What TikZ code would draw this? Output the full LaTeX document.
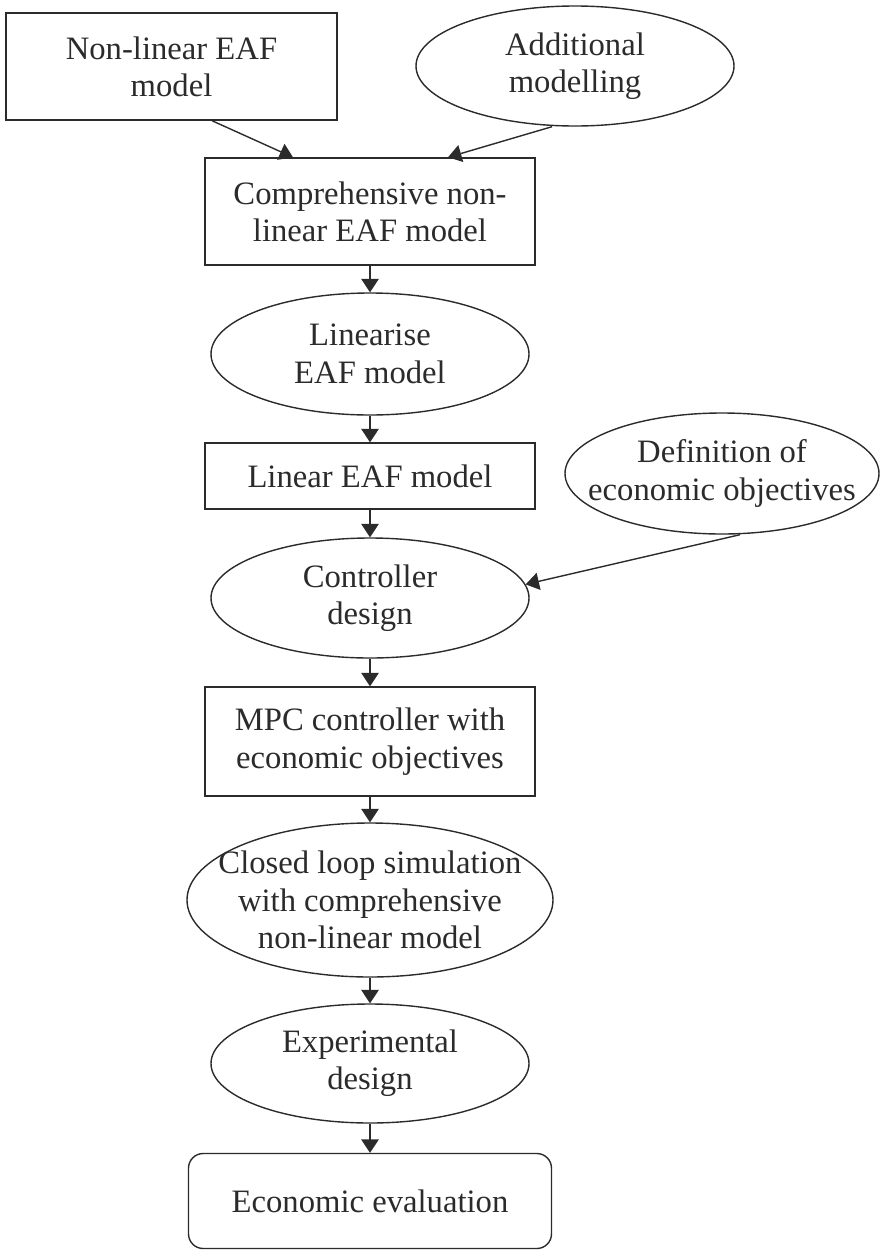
\documentclass[tikz,border=0pt]{standalone}
\usepackage{fontspec}
\setmainfont{Liberation Serif}
\usetikzlibrary{shapes.geometric,arrows.meta,calc}
\definecolor{ink}{HTML}{2B2B2B}
\begin{document}
\begin{tikzpicture}[x=0.75pt,y=-0.75pt,
  every node/.style={font=\fontsize{24.5}{28}\selectfont, text=ink, align=center, inner sep=0pt},
  boxnode/.style={rectangle, draw=ink, line width=1.05pt},
  ellnode/.style={ellipse, draw=ink, line width=1.05pt},
  roundnode/.style={rectangle, rounded corners=11pt, draw=ink, line width=1.05pt},
  arr/.style={draw=ink, line width=1.05pt, -{Triangle[width=13pt,length=10pt]}}
]
\useasboundingbox (0,0) rectangle (879,1250);

\node[boxnode, minimum width=248.25pt, minimum height=80.25pt] (A) at (171.5,66.5) {Non-linear EAF\\model};
\node[ellnode, minimum width=238.5pt, minimum height=90pt, label={[name=Bt]center:Additional\\modelling}] (B) at (575,66) {};
\node[boxnode, minimum width=247.5pt, minimum height=80.25pt] (comp) at (370,211.5) {Comprehensive non-\\linear EAF model};
\node[ellnode, minimum width=238.5pt, minimum height=91.5pt, label={[name=lint]center:Linearise\\EAF model}] (lin) at (370,354) {};
\node[boxnode, minimum width=247.5pt, minimum height=49.5pt] (linm) at (370,476) {Linear EAF model};
\node[ellnode, minimum width=235.5pt, minimum height=90.75pt, label={[name=deft]center:Definition of\\economic objectives}] (def) at (722,473.5) {};
\node[ellnode, minimum width=238.5pt, minimum height=90pt, label={[name=ctrlt]center:Controller\\design}] (ctrl) at (370,598) {};
\node[boxnode, minimum width=247.5pt, minimum height=81.75pt] (mpc) at (370,741.5) {MPC controller with\\economic objectives};
\node[ellnode, minimum width=274.5pt, minimum height=115.5pt, label={[name=closedt]center:Closed loop simulation\\with comprehensive\\non-linear model}] (closed) at (370,900) {};
\node[ellnode, minimum width=238.5pt, minimum height=89.25pt, label={[name=expt]center:Experimental\\design}] (exp) at (370,1063.5) {};
\node[roundnode, minimum width=272.25pt, minimum height=71.25pt] (econ) at (370,1201) {Economic evaluation};

\draw[arr] ($(A.south)+(40.5,0)$) -- ($(comp.north)+(-77,0)$);
\draw[arr] ($(B.south)+(-23,0)$) -- ($(comp.north)+(78,0)$);
\draw[arr] (comp) -- (lin);
\draw[arr] (lin) -- (linm);
\draw[arr] (linm) -- (ctrl);
\draw[arr] ($(def.south)+(18,0)$) -- (ctrl.5);
\draw[arr] (ctrl) -- (mpc);
\draw[arr] (mpc) -- (closed);
\draw[arr] (closed) -- (exp);
\draw[arr] (exp) -- (econ);
\end{tikzpicture}
\end{document}
